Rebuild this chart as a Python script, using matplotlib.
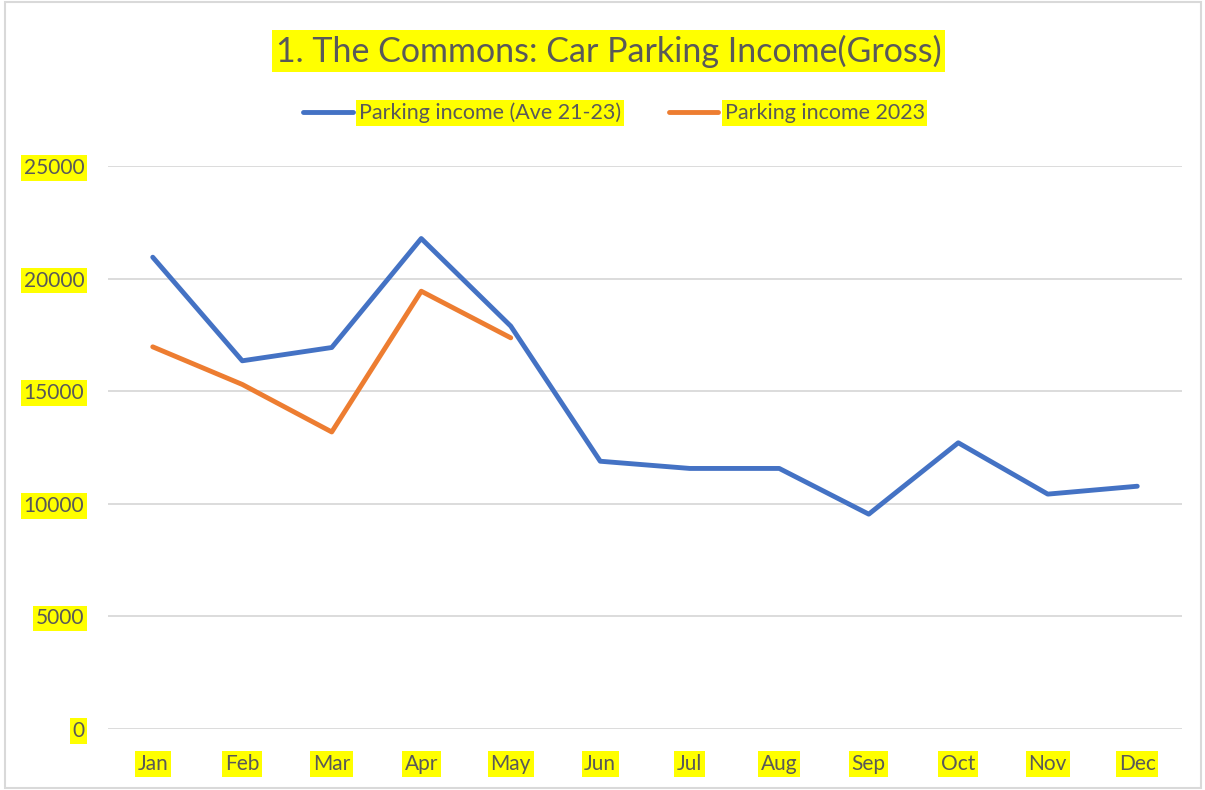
import matplotlib.pyplot as plt
from matplotlib.patches import Rectangle

months = ['Jan', 'Feb', 'Mar', 'Apr', 'May', 'Jun', 'Jul', 'Aug', 'Sep', 'Oct', 'Nov', 'Dec']
ave_21_23 = [20950, 16350, 16940, 21780, 17890, 11890, 11570, 11570, 9540, 12710, 10430, 10780]
income_2023 = [16970, 15300, 13190, 19440, 17370]

yticks = [0, 5000, 10000, 15000, 20000, 25000]

plt.rcParams['font.family'] = ['Lato', 'DejaVu Sans']
txt_col = '#595959'
hl = dict(facecolor='yellow', edgecolor='none', pad=2)

fig = plt.figure(figsize=(12.05, 7.9), dpi=100)
ax = fig.add_axes([108/1205, 1 - 729/790, (1182 - 108)/1205, (729 - 166)/790])

x = list(range(len(months)))
ax.plot(x, ave_21_23, color='#4472C4', lw=3.5, solid_capstyle='round', label='Parking income (Ave 21-23)')
ax.plot(x[:len(income_2023)], income_2023, color='#ED7D31', lw=3.5, solid_capstyle='round', label='Parking income 2023')

ax.set_xlim(-0.5, 11.5)
ax.set_ylim(0, 25000)
ax.set_xticks(x)
ax.set_xticklabels(months)
ax.set_yticks(yticks)
ax.set_yticklabels([str(v) for v in yticks])
ax.grid(axis='y', color='#D9D9D9', lw=1.3)
ax.set_axisbelow(True)
for s in ax.spines.values():
    s.set_visible(False)
ax.tick_params(length=0, labelsize=15, labelcolor=txt_col)
ax.tick_params(axis='x', pad=18)
ax.tick_params(axis='y', pad=17)
for lbl in ax.get_xticklabels() + ax.get_yticklabels():
    lbl.set_bbox(hl)

t = fig.text(0.505, 1 - 51/790, '1. The Commons: Car Parking Income(Gross)', ha='center', va='center',
             fontsize=24.5, color=txt_col)
t.set_bbox(dict(facecolor='yellow', edgecolor='none', pad=3))

leg = ax.legend(loc='center', bbox_to_anchor=(0.471, 1 + (166 - 113)/563), ncol=2, frameon=False,
                fontsize=15.5, handlelength=2.3, handletextpad=0.3, columnspacing=2.2)
for tx in leg.get_texts():
    tx.set_color(txt_col)
    tx.set_bbox(hl)

fig.patches.append(Rectangle((0.004, 0.002), 0.993, 0.995, transform=fig.transFigure,
                             fill=False, edgecolor='#D9D9D9', lw=1.5))

fig.savefig('out.png', dpi=100, facecolor='white')
